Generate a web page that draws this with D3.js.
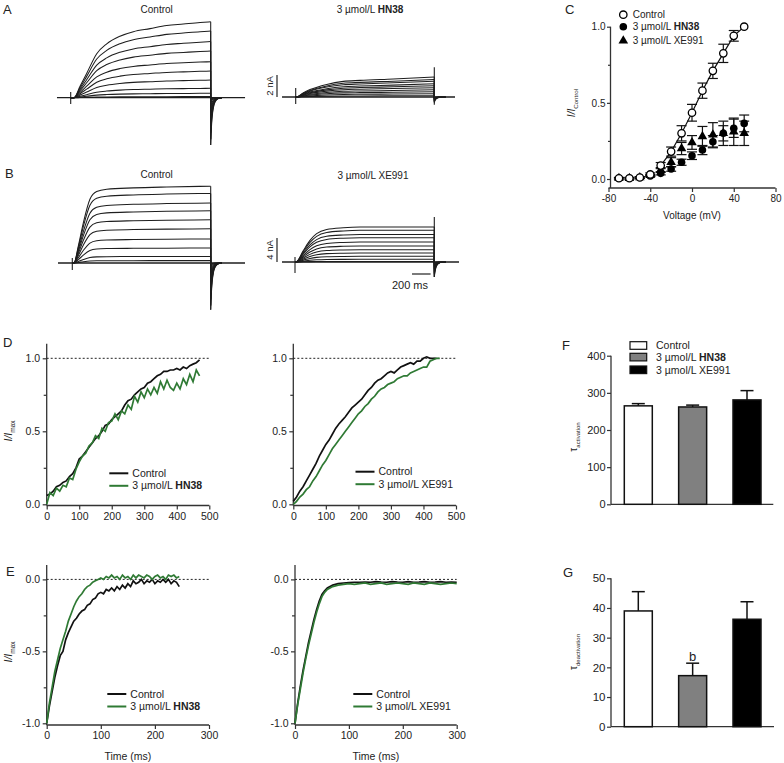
<!DOCTYPE html>
<html><head><meta charset="utf-8">
<script src="https://cdn.jsdelivr.net/npm/d3@7"></script>
<style>
body{margin:0;background:#fff}
svg text{font-family:"Liberation Sans",Arial,sans-serif;fill:#222}
</style>
</head><body>
<svg id="c" width="784" height="763"></svg>
<script>
// ================= DATA =================
// A/B: current traces (nA) — time course (ms within a 1500 ms pulse) and steady amplitudes
const pulseDur = 1500;
const tailT = [0, 8, 16, 30, 50, 80, 120];
const tailF = [1, 0.62, 0.4, 0.2, 0.08, 0.02, 0];

const tCtrlA = [0, 35, 100, 171, 279, 386, 528, 671, 850, 1029, 1207, 1386, 1500];
const fCtrlA = [0, 0, 0.15, 0.32, 0.58, 0.71, 0.81, 0.87, 0.91, 0.95, 0.97, 0.99, 1];
const ampCtrlA = [6.9, 6.06, 5.1, 4.24, 3.27, 2.42, 1.6, 0.85, 0.4, 0.1];

const tHN38A = [0, 11, 80, 155, 336, 516, 696, 1056, 1500];
const fHN38A = [0, 0, 0.2, 0.37, 0.63, 0.78, 0.83, 0.9, 1];
const ampHN38A = [1.82, 1.6, 1.43, 1.2, 1.03, 0.85, 0.66, 0.48, 0.3, 0.12];

const tCtrlB = [0, 18, 65, 119, 191, 264, 373, 662, 1024, 1500];
const fCtrlB = [0, 0, 0.22, 0.52, 0.83, 0.93, 0.96, 0.978, 0.99, 1];
const ampCtrlB = [12.8, 11.6, 10, 8.7, 7.2, 5.7, 4, 2.5, 1.1, 0.4];

const tXE991B = [0, 11, 90, 161, 233, 341, 520, 700, 1500];
const fXE991B = [0, 0, 0.33, 0.62, 0.81, 0.93, 0.98, 1, 1];
const ampXE991B = [5.83, 5.28, 4.6, 4.05, 3.33, 2.67, 2.05, 1.5, 0.95, 0.45, 0.1];

// C: I–V relation
const voltages = [-70, -60, -50, -40, -30, -20, -10, 0, 10, 20, 30, 40, 50];
const ivCtrl  = [0.005, 0.005, 0.01, 0.03, 0.088, 0.18, 0.30, 0.435, 0.58, 0.71, 0.825, 0.94, 1.0];
const ivCtrlE = [0, 0, 0.005, 0.01, 0.02, 0.03, 0.05, 0.055, 0.05, 0.05, 0.06, 0.035, 0];
const ivHN38  = [0.005, 0.005, 0.01, 0.02, 0.037, 0.066, 0.11, 0.153, 0.19, 0.245, 0.30, 0.333, 0.365];
const ivHN38E = [0.005, 0.005, 0.005, 0.005, 0.01, 0.015, 0.02, 0.025, 0.03, 0.04, 0.05, 0.06, 0.055];
const ivXE991 = [0.005, 0.005, 0.01, 0.025, 0.06, 0.11, 0.20, 0.24, 0.28, 0.29, 0.30, 0.31, 0.30];
const ivXE991E= [0.005, 0.005, 0.005, 0.005, 0.015, 0.03, 0.04, 0.045, 0.065, 0.08, 0.08, 0.09, 0.08];

// D: normalized activation time course (10 ms steps)
const dLeftCtrl = [0.06,0.07,0.09,0.12,0.13,0.15,0.16,0.19,0.21,0.25,0.31,0.33,0.36,0.39,0.42,0.45,0.47,0.50,0.54,0.55,0.58,0.60,0.62,0.64,0.68,0.71,0.72,0.75,0.77,0.79,0.80,0.83,0.84,0.86,0.88,0.89,0.91,0.91,0.92,0.92,0.93,0.92,0.94,0.93,0.95,0.96,0.97,0.99];
const dLeftHN38 = [0.00,0.08,0.06,0.11,0.09,0.13,0.12,0.18,0.17,0.24,0.29,0.33,0.35,0.40,0.42,0.47,0.45,0.52,0.50,0.56,0.57,0.62,0.58,0.64,0.62,0.68,0.65,0.74,0.70,0.77,0.73,0.79,0.75,0.80,0.76,0.84,0.79,0.85,0.80,0.78,0.83,0.79,0.86,0.82,0.89,0.84,0.92,0.88];
const dRightCtrl = [0.02,0.05,0.09,0.12,0.16,0.20,0.24,0.28,0.33,0.37,0.41,0.44,0.48,0.52,0.55,0.575,0.60,0.63,0.66,0.68,0.70,0.72,0.75,0.78,0.80,0.83,0.85,0.86,0.88,0.90,0.91,0.90,0.92,0.94,0.95,0.96,0.97,0.96,0.98,0.98,1.0,1.01,1.0,1.0,1.0];
const dRightXE991 = [0.0,0.02,0.05,0.07,0.10,0.12,0.16,0.19,0.23,0.27,0.30,0.34,0.38,0.41,0.44,0.47,0.50,0.53,0.56,0.59,0.62,0.64,0.67,0.69,0.72,0.74,0.77,0.79,0.80,0.82,0.83,0.84,0.86,0.87,0.88,0.88,0.90,0.91,0.92,0.93,0.94,0.94,0.98,0.99,1.0,1.0];

// E: normalized deactivation (5 ms steps left)
const eLeftCtrl = [-1.0,-0.88,-0.78,-0.68,-0.60,-0.53,-0.50,-0.42,-0.37,-0.33,-0.29,-0.27,-0.24,-0.22,-0.21,-0.18,-0.17,-0.14,-0.13,-0.10,-0.09,-0.10,-0.07,-0.08,-0.06,-0.08,-0.05,-0.07,-0.04,-0.06,-0.03,-0.05,-0.01,-0.03,-0.02,0.0,-0.03,-0.01,-0.02,0.0,-0.03,-0.01,-0.02,0.0,-0.02,0.0,-0.03,-0.01,-0.02,-0.05];
const eLeftHN38 = [-1.0,-0.86,-0.75,-0.64,-0.56,-0.48,-0.42,-0.36,-0.29,-0.24,-0.19,-0.15,-0.12,-0.10,-0.07,-0.05,-0.04,-0.02,-0.01,0.0,0.01,0.0,0.02,0.01,0.03,0.01,0.02,0.0,0.03,0.01,0.02,0.0,0.03,0.01,0.03,0.02,0.01,0.03,0.02,0.0,0.02,0.03,0.01,0.02,0.0,0.03,0.02,0.03,0.01,0.02];
const eRightT = [0,5,10,15,20,25,30,35,40,45,50,55,60,70,80,90,100,110,120,130,140,150,160,170,180,190,200,210,220,230,240,250,260,270,280,290,300];
const eRightCtrl = [-1.0,-0.86,-0.74,-0.63,-0.535,-0.44,-0.36,-0.28,-0.21,-0.15,-0.105,-0.08,-0.06,-0.04,-0.03,-0.025,-0.022,-0.02,-0.02,-0.018,-0.02,-0.015,-0.018,-0.02,-0.015,-0.018,-0.02,-0.015,-0.02,-0.018,-0.015,-0.02,-0.018,-0.015,-0.02,-0.018,-0.02];
const eRightXE991 = [-1.0,-0.87,-0.76,-0.65,-0.55,-0.46,-0.38,-0.30,-0.23,-0.17,-0.12,-0.09,-0.07,-0.05,-0.04,-0.035,-0.03,-0.035,-0.03,-0.025,-0.035,-0.03,-0.025,-0.035,-0.03,-0.025,-0.03,-0.035,-0.025,-0.03,-0.035,-0.025,-0.03,-0.035,-0.03,-0.025,-0.03];

// F/G: bars
const groups = ["Control", "HN38", "XE991"];
const tauAct = [265, 262, 281];
const tauActErr = [6, 5, 25];
const tauDeact = [39, 17.2, 36.2];
const tauDeactErr = [6.5, 4.2, 5.9];
const barFill = ["#ffffff", "#808080", "#000000"];

// ================= DRAWING =================
const svg = d3.select("#c");
const GREEN = "#2f7a34";
const AX = "#333";

function txt(x, y, s, o = {}) {
  const t = svg.append("text").attr("x", x).attr("y", y).text(s)
    .attr("font-size", o.fs || 10).attr("text-anchor", o.anchor || "start");
  if (o.bold) t.attr("font-weight", "bold");
  return t;
}
function mixed(g, x, y, parts, fs, anchor) {
  const t = g.append("text").attr("x", x).attr("y", y).attr("font-size", fs).attr("text-anchor", anchor || "start");
  parts.forEach(p => t.append("tspan").text(p[0]).attr("font-weight", p[1] ? "bold" : "normal"));
  return t;
}

// panel letters
[["A",3,14],["B",5,178],["C",565,14],["D",3,347],["E",6,576],["F",562,350],["G",563,577]]
  .forEach(d => txt(d[1], d[2], d[0], {fs: 13}));

// ---------- trace panels ----------
function tracePanel(p) {
  const x = d3.scaleLinear().domain([0, pulseDur]).range([p.x0, p.x1]);
  const y = d3.scaleLinear().domain([0, 1]).range([p.base, p.base - p.pxPerNA]);
  const g = svg.append("g").attr("fill", "none").attr("stroke", "#1e1e1e").attr("stroke-width", 1.05);
  g.append("line").attr("x1", x(p.hold[0])).attr("x2", x(p.hold[1])).attr("y1", y(0)).attr("y2", y(0)).attr("stroke-width", 1.3);
  g.append("line").attr("x1", x(0)).attr("x2", x(0)).attr("y1", y(p.tick[0])).attr("y2", y(-p.tick[1])).attr("stroke-width", 1.1);
  const ln = d3.line().x(d => x(d[0])).y(d => y(d[1])).curve(d3.curveMonotoneX);
  const amax = p.amps[0];
  p.amps.forEach(a => {
    g.append("path").attr("d", ln(p.t.map((t, i) => [t, a * p.f[i]])));
    const ta = p.tailMax * a / amax;
    g.append("line").attr("x1", x(pulseDur)).attr("x2", x(pulseDur)).attr("y1", y(a)).attr("y2", y(-ta));
    g.append("path").attr("d", ln(tailT.map((t, i) => [pulseDur + t, -ta * tailF[i]])));
  });
  if (p.spike) g.append("line").attr("x1", x(pulseDur)).attr("x2", x(pulseDur))
    .attr("y1", y(p.spike[0])).attr("y2", y(-p.spike[1])).attr("stroke-width", 1.1);
  return {x, y};
}
tracePanel({x0: 70.7, x1: 210.7, base: 97.7, pxPerNA: 11, hold: [-147, 1868], tick: [0.52, 0.57],
  t: tCtrlA, f: fCtrlA, amps: ampCtrlA, tailMax: 4.3});
const pAR = tracePanel({x0: 295.7, x1: 434.3, base: 97, pxPerNA: 11, hold: [-148, 1724], tick: [0.82, 0.64],
  t: tHN38A, f: fHN38A, amps: ampHN38A, tailMax: 0.5, spike: [2.7, 0.7]});
tracePanel({x0: 72.3, x1: 210.7, base: 263, pxPerNA: 6, hold: [-155, 1872], tick: [0.83, 1.17],
  t: tCtrlB, f: fCtrlB, amps: ampCtrlB, tailMax: 7.8});
const pBR = tracePanel({x0: 295, x1: 434.3, base: 262, pxPerNA: 6, hold: [-140, 1766], tick: [0.83, 1.83],
  t: tXE991B, f: fXE991B, amps: ampXE991B, tailMax: 2.5, spike: [7.5, 2.5]});

txt(156.7, 13, "Control", {anchor: "middle"});
mixed(svg, 370, 13, [["3 µmol/L ", false], ["HN38", true]], 10, "middle");
txt(156.7, 178, "Control", {anchor: "middle"});
txt(373, 179, "3 µmol/L XE991", {anchor: "middle"});

// scale bars
svg.append("line").attr("x1", 277).attr("x2", 277).attr("y1", pAR.y(0)).attr("y2", pAR.y(2)).attr("stroke", "#222").attr("stroke-width", 1.2);
svg.append("text").attr("transform", `translate(272.5,${(pAR.y(0)+pAR.y(2))/2}) rotate(-90)`).attr("text-anchor", "middle").attr("font-size", 9.5).text("2 nA");
svg.append("line").attr("x1", 277).attr("x2", 277).attr("y1", pBR.y(0)).attr("y2", pBR.y(4)).attr("stroke", "#222").attr("stroke-width", 1.2);
svg.append("text").attr("transform", `translate(272.5,${(pBR.y(0)+pBR.y(4))/2}) rotate(-90)`).attr("text-anchor", "middle").attr("font-size", 9.5).text("4 nA");
svg.append("line").attr("x1", pBR.x(1260)).attr("x2", pBR.x(1460)).attr("y1", 274).attr("y2", 274).attr("stroke", "#222").attr("stroke-width", 1.2);
txt(410, 289, "200 ms", {anchor: "middle", fs: 11});

// ---------- axis helpers ----------
function styleAxis(sel, fs) {
  sel.selectAll("path.domain").remove();
  sel.selectAll("line").attr("stroke", AX).attr("stroke-width", 1.2);
  sel.selectAll("text").attr("font-size", fs).attr("fill", "#222").style("font-family", "'Liberation Sans',Arial,sans-serif");
}
function leftAxis(y, xPos, ticks, fmt, minor, top, bottom, fs, ts, pad) {
  const g = svg.append("g").attr("transform", `translate(${xPos},0)`);
  g.call(d3.axisLeft(y).tickValues(ticks).tickFormat(fmt).tickSize(ts).tickPadding(pad));
  styleAxis(g, fs);
  if (minor) {
    const m = svg.append("g").attr("transform", `translate(${xPos},0)`);
    m.call(d3.axisLeft(y).tickValues(minor).tickFormat("").tickSize(ts - 1));
    styleAxis(m, fs);
  }
  svg.append("line").attr("x1", xPos).attr("x2", xPos).attr("y1", top).attr("y2", bottom).attr("stroke", AX).attr("stroke-width", 1.3);
}
function bottomAxis(x, yPos, ticks, fmt, left, right, fs, ts, pad) {
  const g = svg.append("g").attr("transform", `translate(0,${yPos})`);
  if (ticks) {
    g.call(d3.axisBottom(x).tickValues(ticks).tickFormat(fmt).tickSize(ts).tickPadding(pad));
    styleAxis(g, fs);
  }
  svg.append("line").attr("x1", left).attr("x2", right).attr("y1", yPos).attr("y2", yPos).attr("stroke", AX).attr("stroke-width", 1.3);
}
const f1 = d => d.toFixed(1);
const f0 = d => String(d);

function ylabelI(x, y, sub, fs) {
  const t = svg.append("text").attr("transform", `translate(${x},${y}) rotate(-90)`).attr("text-anchor", "middle").attr("font-size", fs);
  t.append("tspan").text("I/I").attr("font-style", "italic");
  t.append("tspan").text(sub).attr("font-size", fs * 0.62).attr("dy", 2.5);
}
function ylabelTau(x, y, sub) {
  const t = svg.append("text").attr("transform", `translate(${x},${y}) rotate(-90)`).attr("text-anchor", "middle").attr("font-size", 10);
  t.append("tspan").text("τ");
  t.append("tspan").text(sub).attr("font-size", 6).attr("dy", 2.5);
}

// ---------- C ----------
{
  const x = d3.scaleLinear().domain([-80, 80]).range([608.5, 775.5]);
  const y = d3.scaleLinear().domain([0, 1]).range([179, 26.7]);
  leftAxis(y, 610.5, [0, 0.5, 1], f1, [0.25, 0.75], 26.7, 188, 10, 3.5, 1.5);
  bottomAxis(x, 188, [-80, -40, 0, 40, 80], f0, 608.5, 775.5, 10, 4, 3);
  ylabelI(575, 103, "Control", 10);
  txt(692, 219, "Voltage (mV)", {anchor: "middle"});
  const g = svg.append("g");
  const errs = (vals, e) => {
    voltages.forEach((v, i) => {
      if (e[i] <= 0) return;
      const cx = x(v);
      g.append("line").attr("x1", cx).attr("x2", cx).attr("y1", y(vals[i] + e[i])).attr("y2", y(vals[i] - e[i])).attr("stroke", "#111").attr("stroke-width", 1.2);
      [vals[i] + e[i], vals[i] - e[i]].forEach(yy => g.append("line").attr("x1", cx - 5).attr("x2", cx + 5).attr("y1", y(yy)).attr("y2", y(yy)).attr("stroke", "#111").attr("stroke-width", 1.2));
    });
  };
  errs(ivXE991, ivXE991E); errs(ivHN38, ivHN38E); errs(ivCtrl, ivCtrlE);
  const fitIdx = voltages.map((v, i) => i).filter(i => voltages[i] >= -30);
  g.append("path").attr("d", d3.line().x(i => x(voltages[i])).y(i => y(ivCtrl[i]))(fitIdx)).attr("fill", "none").attr("stroke", "#111").attr("stroke-width", 1.2);
  const tri = d3.symbol().type(d3.symbolTriangle).size(40);
  voltages.forEach((v, i) => g.append("path").attr("d", tri()).attr("transform", `translate(${x(v)},${y(ivXE991[i])})`).attr("fill", "#000"));
  voltages.forEach((v, i) => g.append("circle").attr("cx", x(v)).attr("cy", y(ivHN38[i])).attr("r", 3.8).attr("fill", "#000"));
  voltages.forEach((v, i) => g.append("circle").attr("cx", x(v)).attr("cy", y(ivCtrl[i])).attr("r", 3.7).attr("fill", "#fff").attr("stroke", "#000").attr("stroke-width", 1.3));
  // legend
  g.append("circle").attr("cx", 623.3).attr("cy", 14.7).attr("r", 3.7).attr("fill", "#fff").attr("stroke", "#000").attr("stroke-width", 1.3);
  g.append("circle").attr("cx", 623.3).attr("cy", 26.7).attr("r", 3.8).attr("fill", "#000");
  g.append("path").attr("d", tri()).attr("transform", "translate(623.3,40.7)").attr("fill", "#000");
  txt(632.7, 18.3, "Control");
  mixed(svg, 632.7, 30.3, [["3 µmol/L ", false], ["HN38", true]], 10);
  txt(632.7, 44.3, "3 µmol/L XE991");
}

// ---------- D ----------
function tracePlot(x0, legendX, legendY, ctrl, drug, drugParts, yTop, yBot, dom, ticks, minor, xTicks, xDom, xRange, dt, t2, axisY, xlabel, dashY) {
  const x = d3.scaleLinear().domain(xDom).range(xRange);
  const y = d3.scaleLinear().domain(dom).range([yBot, yTop]);
  leftAxis(y, x0, ticks, f1, minor, yTop, axisY, 10.5, 4, 2.5);
  bottomAxis(x, axisY, xTicks, f0, x0, xRange[1], 10.5, 4, 3);
  svg.append("line").attr("x1", x0).attr("x2", xRange[1]).attr("y1", y(dashY)).attr("y2", y(dashY))
    .attr("stroke", "#222").attr("stroke-width", 1).attr("stroke-dasharray", "2,2");
  const ln = d3.line().x(d => x(d[0])).y(d => y(d[1]));
  const tt = (arr, i) => t2 ? t2[i] : i * dt;
  svg.append("path").attr("d", ln(ctrl.map((v, i) => [tt(ctrl, i), v]))).attr("fill", "none").attr("stroke", "#111").attr("stroke-width", 1.7);
  svg.append("path").attr("d", ln(drug.map((v, i) => [tt(drug, i), v]))).attr("fill", "none").attr("stroke", GREEN).attr("stroke-width", 1.7);
  svg.append("line").attr("x1", legendX).attr("x2", legendX + 19).attr("y1", legendY).attr("y2", legendY).attr("stroke", "#111").attr("stroke-width", 2);
  svg.append("line").attr("x1", legendX).attr("x2", legendX + 19).attr("y1", legendY + 12.5).attr("y2", legendY + 12.5).attr("stroke", GREEN).attr("stroke-width", 2);
  txt(legendX + 23, legendY + 3.5, "Control", {fs: 10.5});
  mixed(svg, legendX + 23, legendY + 16, drugParts, 10.5);
  if (xlabel) txt((x0 + xRange[1]) / 2, 759.5, "Time (ms)", {anchor: "middle", fs: 10.5});
}
tracePlot(46.7, 109.3, 473.3, dLeftCtrl, dLeftHN38, [["3 µmol/L ", false], ["HN38", true]], 343.7, 504.3, [0, 1.1], [0, 0.5, 1], [0.25, 0.75], [0,100,200,300,400,500], [0,500], [46.7,209.3], 10, null, 505.5, false, 1);
tracePlot(293.3, 355.5, 471.7, dRightCtrl, dRightXE991, [["3 µmol/L XE991", false]], 343.7, 504.3, [0, 1.1], [0, 0.5, 1], [0.25, 0.75], [0,100,200,300,400,500], [0,500], [293.3,456], 10, null, 505.5, false, 1);
ylabelI(12, 431, "max", 10.5);

// ---------- E ----------
tracePlot(46.7, 107.3, 694, eLeftCtrl, eLeftHN38, [["3 µmol/L ", false], ["HN38", true]], 565, 723.3, [-1, 0.1], [-1, -0.5, 0], [-0.75, -0.25], [0,100,200,300], [0,300], [46.7,209], 5, null, 725, true, 0);
tracePlot(295, 353.3, 694, eRightCtrl, eRightXE991, [["3 µmol/L XE991", false]], 565, 723.3, [-1, 0.1], [-1, -0.5, 0], [-0.75, -0.25], [0,100,200,300], [0,300], [295,456.7], 5, eRightT, 725, true, 0);
ylabelI(12, 652, "max", 10.5);

// ---------- F / G ----------
function barPlot(vals, errs, yDom, yRange, ticks, xL, xR, fs, lbl, lblY) {
  const y = d3.scaleLinear().domain(yDom).range(yRange);
  const x = d3.scalePoint().domain(groups).range([638.3, 747]);
  leftAxis(y, xL, ticks, f0, null, yRange[1], yRange[0], fs, 4, 1.5);
  bottomAxis(x, yRange[0], null, null, xL, xR);
  const bw = 28;
  groups.forEach((gname, i) => {
    const cx = x(gname);
    svg.append("line").attr("x1", cx).attr("x2", cx).attr("y1", y(vals[i])).attr("y2", y(vals[i] + errs[i])).attr("stroke", "#111").attr("stroke-width", 1.5);
    svg.append("line").attr("x1", cx - 6.5).attr("x2", cx + 6.5).attr("y1", y(vals[i] + errs[i])).attr("y2", y(vals[i] + errs[i])).attr("stroke", "#111").attr("stroke-width", 1.5);
    svg.append("rect").attr("x", cx - bw / 2).attr("width", bw).attr("y", y(vals[i])).attr("height", y(0) - y(vals[i]))
      .attr("fill", barFill[i]).attr("stroke", "#111").attr("stroke-width", 1.5);
  });
  ylabelTau(577, lblY, lbl);
  return {x, y};
}
barPlot(tauAct, tauActErr, [0, 400], [504.3, 355.7], [0, 100, 200, 300, 400], 611, 773.3, 11, "activation", 437);
const G = barPlot(tauDeact, tauDeactErr, [0, 50], [726.7, 578.3], [0, 10, 20, 30, 40, 50], 611, 774, 11.5, "deactivation", 652);
txt(G.x("HN38"), 661, "b", {anchor: "middle", fs: 13});

// F legend
[[341.7, 0], [353.3, 1], [366, 2]].forEach(d => svg.append("rect").attr("x", 630).attr("y", d[0]).attr("width", 16.7).attr("height", 7.6)
  .attr("fill", barFill[d[1]]).attr("stroke", "#111").attr("stroke-width", 1.2));
txt(656, 349.3, "Control", {fs: 10.5});
mixed(svg, 656, 361, [["3 µmol/L ", false], ["HN38", true]], 10.5);
txt(656, 373.5, "3 µmol/L XE991", {fs: 10.5});
</script>
</body></html>
